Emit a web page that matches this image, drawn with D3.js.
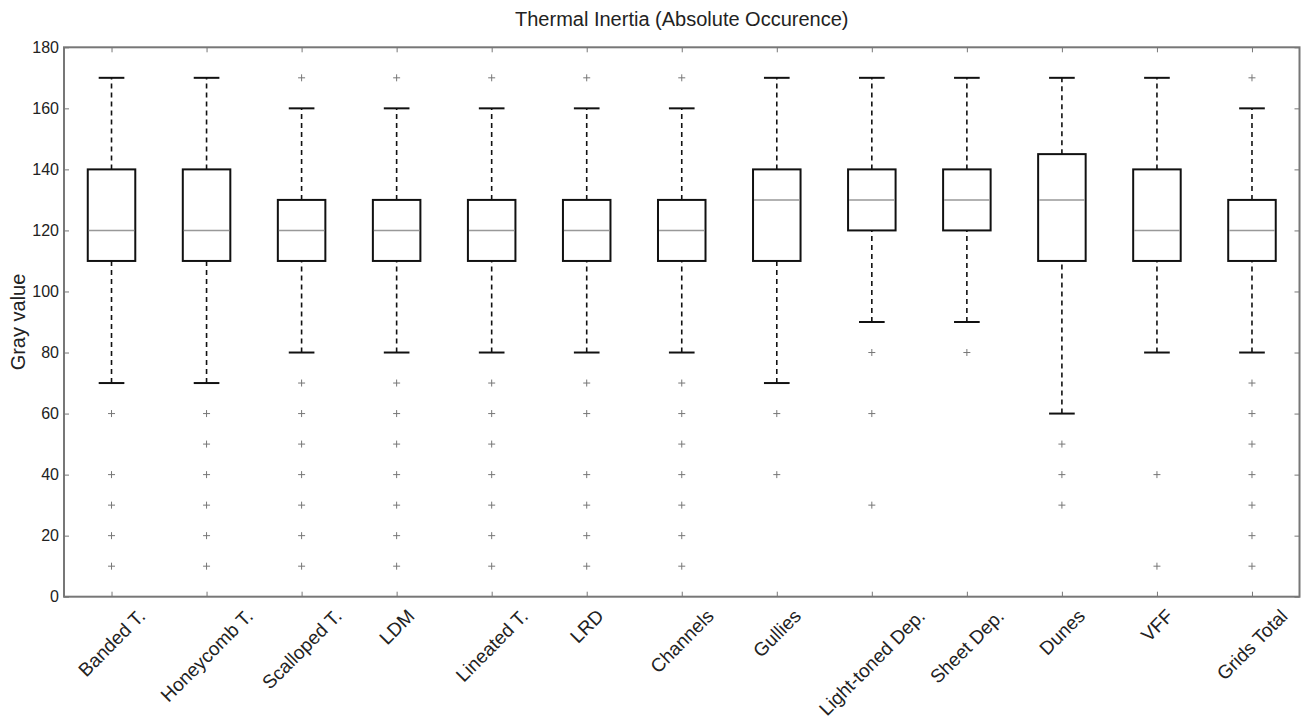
<!DOCTYPE html>
<html>
<head>
<meta charset="utf-8">
<script src="https://cdn.jsdelivr.net/npm/d3@7"></script>
<style>
  body { margin: 0; background: #fff; }
  svg { display: block; font-family: "Liberation Sans", Arial, sans-serif; }
</style>
</head>
<body>
<svg id="chart" width="1303" height="722"></svg>
<script>
// ── data ─────────────────────────────────────────
const categories = ['Banded T.', 'Honeycomb T.', 'Scalloped T.', 'LDM', 'Lineated T.', 'LRD',
  'Channels', 'Gullies', 'Light-toned Dep.', 'Sheet Dep.', 'Dunes', 'VFF', 'Grids Total'];
const whiskLow  = [70, 70, 80, 80, 80, 80, 80, 70, 90, 90, 60, 80, 80];
const q1        = [110, 110, 110, 110, 110, 110, 110, 110, 120, 120, 110, 110, 110];
const medians   = [120, 120, 120, 120, 120, 120, 120, 130, 130, 130, 130, 120, 120];
const q3        = [140, 140, 130, 130, 130, 130, 130, 140, 140, 140, 145, 140, 130];
const whiskHigh = [170, 170, 160, 160, 160, 160, 160, 170, 170, 170, 170, 170, 160];
const fliers = [
  [60, 40, 30, 20, 10],
  [60, 50, 40, 30, 20, 10],
  [170, 70, 60, 50, 40, 30, 20, 10],
  [170, 70, 60, 50, 40, 30, 20, 10],
  [170, 70, 60, 50, 40, 30, 20, 10],
  [170, 70, 60, 40, 30, 20, 10],
  [170, 70, 60, 50, 40, 30, 20, 10],
  [60, 40],
  [80, 60, 30],
  [80],
  [50, 40, 30],
  [40, 10],
  [170, 70, 60, 50, 40, 30, 20, 10],
];
const yTicks = [0, 20, 40, 60, 80, 100, 120, 140, 160, 180];

// ── layout ───────────────────────────────────────
const svg = d3.select('#chart');
const m = { left: 64, right: 1299.5, top: 47.3, bottom: 596.7 };

const x = d3.scaleLinear().domain([0.5, categories.length + 0.5]).range([m.left, m.right]);
const y = d3.scaleLinear().domain([0, 180]).range([m.bottom, m.top]);
const step = x(2) - x(1);
const boxW = step * 0.5;
const capW = step * 0.27;

const g = svg.append('g');

// ── boxes ────────────────────────────────────────
categories.forEach((c, i) => {
  const cx = x(i + 1);
  const bg = g.append('g');
  // whiskers (dashed)
  [[whiskLow[i], q1[i]], [q3[i], whiskHigh[i]]].forEach(([a, b]) => {
    bg.append('line')
      .attr('x1', cx).attr('x2', cx).attr('y1', y(a)).attr('y2', y(b))
      .attr('stroke', '#111').attr('stroke-width', 1.6)
      .attr('stroke-dasharray', '5,4');
  });
  // caps
  [whiskLow[i], whiskHigh[i]].forEach(v => {
    bg.append('line')
      .attr('x1', cx - capW / 2).attr('x2', cx + capW / 2)
      .attr('y1', y(v)).attr('y2', y(v))
      .attr('stroke', '#111').attr('stroke-width', 2);
  });
  // box
  bg.append('rect')
    .attr('x', cx - boxW / 2).attr('width', boxW)
    .attr('y', y(q3[i])).attr('height', y(q1[i]) - y(q3[i]))
    .attr('fill', 'none').attr('stroke', '#111').attr('stroke-width', 2);
  // median
  bg.append('line')
    .attr('x1', cx - boxW / 2 + 1).attr('x2', cx + boxW / 2 - 1)
    .attr('y1', y(medians[i])).attr('y2', y(medians[i]))
    .attr('stroke', '#999').attr('stroke-width', 1.5);
  // fliers
  fliers[i].forEach(v => {
    const py = y(v);
    bg.append('path')
      .attr('d', `M${cx - 3.5},${py}H${cx + 3.5}M${cx},${py - 3.5}V${py + 3.5}`)
      .attr('stroke', '#777').attr('stroke-width', 1);
  });
});

// ── axes (frame + inward ticks) ─────────────────
const axisColor = '#777';
g.append('rect')
  .attr('x', m.left).attr('y', m.top)
  .attr('width', m.right - m.left).attr('height', m.bottom - m.top)
  .attr('fill', 'none').attr('stroke', axisColor).attr('stroke-width', 2);

const yAxisL = d3.axisLeft(y).tickValues(yTicks).tickSizeInner(-5).tickSizeOuter(0).tickPadding(5);
const yAxisR = d3.axisRight(y).tickValues(yTicks).tickSizeInner(-5).tickSizeOuter(0).tickFormat('');
const xAxisB = d3.axisBottom(x).tickValues(d3.range(1, categories.length + 1))
  .tickSizeInner(-5).tickSizeOuter(0).tickFormat(d => categories[d - 1]);
const xAxisT = d3.axisTop(x).tickValues(d3.range(1, categories.length + 1))
  .tickSizeInner(-5).tickSizeOuter(0).tickFormat('');

const gl = g.append('g').attr('transform', `translate(${m.left},0)`).call(yAxisL);
g.append('g').attr('transform', `translate(${m.right},0)`).call(yAxisR);
const gb = g.append('g').attr('transform', `translate(0,${m.bottom})`).call(xAxisB);
g.append('g').attr('transform', `translate(0,${m.top})`).call(xAxisT);

g.selectAll('.domain').remove();
g.selectAll('.tick line').attr('stroke', axisColor).attr('stroke-width', 1);

gl.selectAll('text').attr('font-size', 16).attr('fill', '#222');

// rotated labels, centred on the tick like matplotlib (rotation=45, ha=center)
const labFs = 19;
gb.selectAll('text')
  .attr('font-size', labFs).attr('fill', '#222')
  .attr('text-anchor', 'middle')
  .attr('dy', '0.32em').attr('y', 0).attr('x', 0)
  .attr('transform', function () {
    const L = this.getComputedTextLength();
    const h = (L + labFs * 0.95) * Math.SQRT1_2;
    return `translate(0,${10 + h / 2}) rotate(-45)`;
  });

// ── titles ───────────────────────────────────────
svg.append('text')
  .attr('x', (m.left + m.right) / 2).attr('y', 26)
  .attr('text-anchor', 'middle').attr('font-size', 20).attr('fill', '#222')
  .text('Thermal Inertia (Absolute Occurence)');

svg.append('text')
  .attr('transform', `translate(25,${(m.top + m.bottom) / 2}) rotate(-90)`)
  .attr('text-anchor', 'middle').attr('font-size', 20).attr('fill', '#222')
  .text('Gray value');
</script>
</body>
</html>
